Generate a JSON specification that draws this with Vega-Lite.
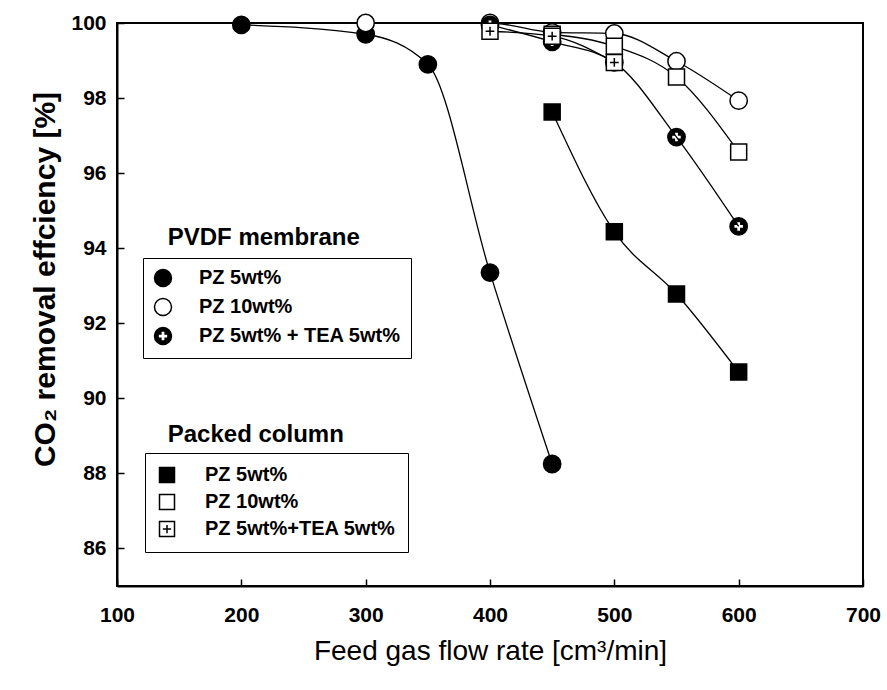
{
  "$schema": "https://vega.github.io/schema/vega-lite/v6.json",
  "width": 746,
  "height": 563,
  "autosize": {"type": "none"},
  "padding": {"left": 117, "top": 23, "right": 24, "bottom": 104},
  "background": "white",
  "config": {
    "view": {"stroke": "black", "strokeWidth": 2},
    "font": "Liberation Sans",
    "axis": {
      "grid": false,
      "domainColor": "black",
      "domainWidth": 2,
      "tickColor": "black",
      "tickWidth": 1.5,
      "tickSize": -7,
      "labelFont": "Liberation Sans",
      "labelFontSize": 21,
      "labelFontWeight": "bold",
      "labelColor": "black",
      "labelFlush": false,
      "titleFont": "Liberation Sans",
      "titleColor": "black"
    },
    "legend": {
      "orient": "none",
      "title": null,
      "direction": "vertical",
      "strokeColor": "black",
      "fillColor": "white",
      "labelFont": "Liberation Sans",
      "labelFontSize": 20,
      "labelFontWeight": "bold",
      "labelColor": "black",
      "labelLimit": 400,
      "rowPadding": 5,
      "symbolOpacity": 1
    }
  },
  "datasets": {
    "pvdf": [
      {"series": "PZ 5wt%", "flow": 200, "eff": 99.95},
      {"series": "PZ 5wt%", "flow": 300, "eff": 99.7},
      {"series": "PZ 5wt%", "flow": 350, "eff": 98.9},
      {"series": "PZ 5wt%", "flow": 400, "eff": 93.35},
      {"series": "PZ 5wt%", "flow": 450, "eff": 88.25},
      {"series": "PZ 10wt%", "flow": 300, "eff": 100.0},
      {"series": "PZ 10wt%", "flow": 400, "eff": 100.0},
      {"series": "PZ 10wt%", "flow": 450, "eff": 99.75},
      {"series": "PZ 10wt%", "flow": 500, "eff": 99.72},
      {"series": "PZ 10wt%", "flow": 550, "eff": 98.98},
      {"series": "PZ 10wt%", "flow": 600, "eff": 97.93},
      {"series": "PZ 5wt% + TEA 5wt%", "flow": 400, "eff": 99.95},
      {"series": "PZ 5wt% + TEA 5wt%", "flow": 450, "eff": 99.5},
      {"series": "PZ 5wt% + TEA 5wt%", "flow": 500, "eff": 98.95},
      {"series": "PZ 5wt% + TEA 5wt%", "flow": 550, "eff": 96.96},
      {"series": "PZ 5wt% + TEA 5wt%", "flow": 600, "eff": 94.58}
    ],
    "packed": [
      {"series": "PZ 10wt%", "flow": 450, "eff": 99.7},
      {"series": "PZ 10wt%", "flow": 500, "eff": 99.38},
      {"series": "PZ 10wt%", "flow": 550, "eff": 98.56},
      {"series": "PZ 10wt%", "flow": 600, "eff": 96.56},
      {"series": "PZ 5wt%", "flow": 450, "eff": 97.63},
      {"series": "PZ 5wt%", "flow": 500, "eff": 94.44},
      {"series": "PZ 5wt%", "flow": 550, "eff": 92.78},
      {"series": "PZ 5wt%", "flow": 600, "eff": 90.7},
      {"series": "PZ 5wt%+TEA 5wt%", "flow": 400, "eff": 99.78},
      {"series": "PZ 5wt%+TEA 5wt%", "flow": 450, "eff": 99.65},
      {"series": "PZ 5wt%+TEA 5wt%", "flow": 500, "eff": 98.95}
    ],
    "groups": [
      {"flow": 140.8, "eff": 94.09, "label": "PVDF membrane"},
      {"flow": 140.8, "eff": 88.84, "label": "Packed column"}
    ]
  },
  "layer": [
    {
      "data": {"name": "pvdf"},
      "mark": {"type": "line", "interpolate": "monotone", "color": "black", "strokeWidth": 1.3},
      "encoding": {
        "x": {
          "field": "flow", "type": "quantitative",
          "scale": {"domain": [100, 700], "nice": false, "zero": false},
          "axis": {
            "values": [100, 200, 300, 400, 500, 600, 700],
            "labelPadding": 25,
            "title": "Feed gas flow rate [cm³/min]",
            "titleFontSize": 28,
            "titleFontWeight": "normal",
            "titlePadding": 12
          }
        },
        "y": {
          "field": "eff", "type": "quantitative",
          "scale": {"domain": [85, 100], "nice": false, "zero": false},
          "axis": {
            "values": [86, 88, 90, 92, 94, 96, 98, 100],
            "labelPadding": 18,
            "title": "CO₂ removal effciency [%]",
            "titleFontSize": 30,
            "titleFontWeight": "bold",
            "titlePadding": 10,
            "titleY": 256
          }
        },
        "detail": {"field": "series"}
      }
    },
    {
      "data": {"name": "packed"},
      "mark": {"type": "line", "interpolate": "monotone", "color": "black", "strokeWidth": 1.3},
      "encoding": {
        "x": {"field": "flow", "type": "quantitative", "scale": {"domain": [100, 700], "nice": false, "zero": false}},
        "y": {"field": "eff", "type": "quantitative", "scale": {"domain": [85, 100], "nice": false, "zero": false}},
        "detail": {"field": "series"}
      }
    },
    {
      "data": {"name": "pvdf"},
      "mark": {"type": "point", "filled": true, "size": 300, "stroke": "black", "strokeWidth": 1.5, "opacity": 1},
      "encoding": {
        "x": {"field": "flow", "type": "quantitative", "scale": {"domain": [100, 700], "nice": false, "zero": false}},
        "y": {"field": "eff", "type": "quantitative", "scale": {"domain": [85, 100], "nice": false, "zero": false}},
        "shape": {
          "field": "series", "type": "nominal",
          "scale": {
            "domain": ["PZ 5wt%", "PZ 10wt%", "PZ 5wt% + TEA 5wt%"],
            "range": ["circle", "circle", "M1,0A1,1,0,1,1,-1,0A1,1,0,1,1,1,0Z M-0.25,-0.58L-0.25,-0.25L-0.58,-0.25L-0.58,0.25L-0.25,0.25L-0.25,0.58L0.25,0.58L0.25,0.25L0.58,0.25L0.58,-0.25L0.25,-0.25L0.25,-0.58Z"]
          },
          "legend": {
            "legendX": 26, "legendY": 235, "padding": 10, "labelOffset": 26, "symbolSize": 289,
            "encode": {"symbols": {"update": {"stroke": {"value": "black"}, "strokeWidth": {"value": 1.5}}}}
          }
        },
        "fill": {
          "field": "series", "type": "nominal",
          "scale": {
            "domain": ["PZ 5wt%", "PZ 10wt%", "PZ 5wt% + TEA 5wt%"],
            "range": ["black", "white", "black"]
          },
          "legend": {
            "legendX": 26, "legendY": 235, "padding": 10, "labelOffset": 26, "symbolSize": 289,
            "encode": {"symbols": {"update": {"stroke": {"value": "black"}, "strokeWidth": {"value": 1.5}}}}
          }
        }
      }
    },
    {
      "data": {"name": "packed"},
      "mark": {"type": "point", "filled": true, "size": 256, "stroke": "black", "strokeWidth": 1.5, "opacity": 1},
      "encoding": {
        "x": {"field": "flow", "type": "quantitative", "scale": {"domain": [100, 700], "nice": false, "zero": false}},
        "y": {"field": "eff", "type": "quantitative", "scale": {"domain": [85, 100], "nice": false, "zero": false}},
        "shape": {
          "field": "series", "type": "nominal",
          "scale": {
            "domain": ["PZ 5wt%", "PZ 10wt%", "PZ 5wt%+TEA 5wt%"],
            "range": ["square", "square", "M-1,-1H1V1H-1Z M0,-0.55V0.55 M-0.55,0H0.55"]
          },
          "legend": {
            "legendX": 28, "legendY": 430, "padding": 12, "labelOffset": 28, "symbolSize": 225,
            "encode": {"symbols": {"update": {"stroke": {"value": "black"}, "strokeWidth": {"value": 1.5}}}}
          }
        },
        "fill": {
          "field": "series", "type": "nominal",
          "scale": {
            "domain": ["PZ 5wt%", "PZ 10wt%", "PZ 5wt%+TEA 5wt%"],
            "range": ["black", "white", "white"]
          },
          "legend": {
            "legendX": 28, "legendY": 430, "padding": 12, "labelOffset": 28, "symbolSize": 225,
            "encode": {"symbols": {"update": {"stroke": {"value": "black"}, "strokeWidth": {"value": 1.5}}}}
          }
        }
      }
    },
    {
      "data": {"name": "groups"},
      "mark": {"type": "text", "align": "left", "baseline": "alphabetic", "font": "Liberation Sans", "fontSize": 24, "fontWeight": "bold", "color": "black"},
      "encoding": {
        "x": {"field": "flow", "type": "quantitative", "scale": {"domain": [100, 700], "nice": false, "zero": false}},
        "y": {"field": "eff", "type": "quantitative", "scale": {"domain": [85, 100], "nice": false, "zero": false}},
        "text": {"field": "label"}
      }
    }
  ],
  "resolve": {"scale": {"shape": "independent", "fill": "independent"}}
}
